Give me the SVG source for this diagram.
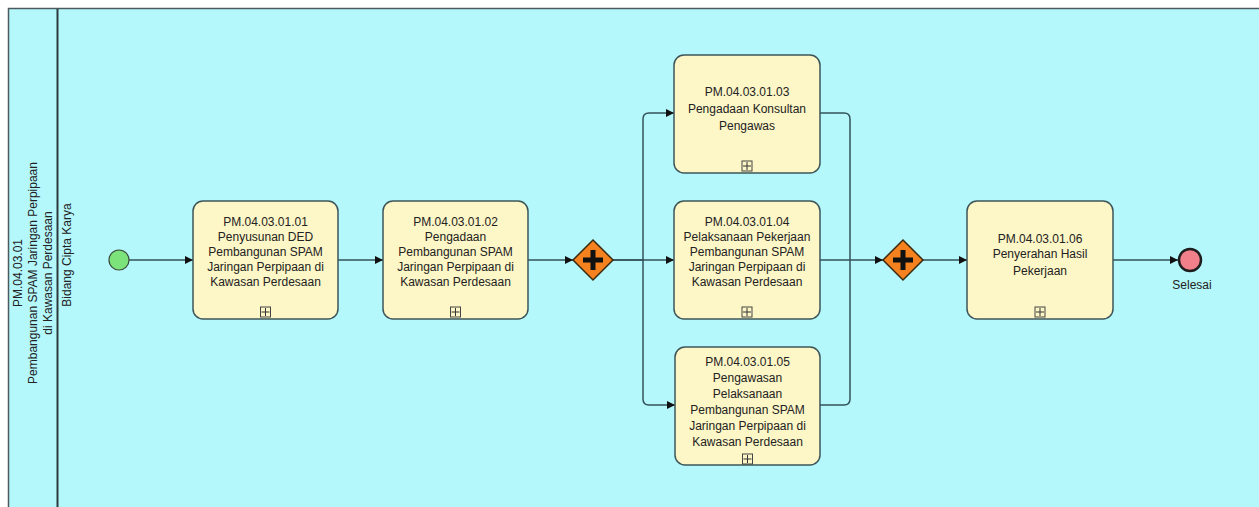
<svg xmlns="http://www.w3.org/2000/svg" width="1259" height="507" viewBox="0 0 1259 507">
<defs>
<style>
.pool{fill:#b5f8fc;stroke:#4a5a5e;stroke-width:1.5}
.task{fill:#fdf6c6;stroke:#3d5558;stroke-width:1.5}
.t{font-family:"Liberation Sans",Arial,sans-serif;font-size:12px;fill:#222;text-anchor:middle}
.c{fill:none;stroke:#33525a;stroke-width:1.5}
.gw{fill:#f5821f;stroke:#3a2a10;stroke-width:1.5}
.plus{stroke:#111;stroke-width:5;fill:none}
.sub{fill:#fdf6c6;stroke:#444;stroke-width:1}
</style>
<marker id="ah" viewBox="0 0 10 10" refX="10" refY="5" markerWidth="10" markerHeight="8" markerUnits="userSpaceOnUse" orient="auto">
<path d="M0,0 L10,5 L0,10 z" fill="#111"/>
</marker>
<g id="subm">
<rect x="-5" y="-5" width="10" height="10" class="sub"/>
<path d="M-4,0 H4 M0,-4 V4" stroke="#333" stroke-width="1"/>
</g>
</defs>
<g id="pool">
<rect class="pool" x="8.5" y="8.5" width="1262" height="510"/>
<line x1="57.5" y1="9" x2="57.5" y2="507" stroke="#2d3a3d" stroke-width="2"/>
<text class="t" transform="translate(22,273) rotate(-90)">PM.04.03.01</text>
<text class="t" transform="translate(37,273) rotate(-90)">Pembangunan SPAM Jaringan Perpipaan</text>
<text class="t" transform="translate(52,273) rotate(-90)">di Kawasan Perdesaan</text>
<text class="t" transform="translate(71,255) rotate(-90)">Bidang Cipta Karya</text>
</g>
<g id="connectors">
<path class="c" d="M129,260 H193" marker-end="url(#ah)"/>
<path class="c" d="M338,260 H383" marker-end="url(#ah)"/>
<path class="c" d="M528,260 H573" marker-end="url(#ah)"/>
<path class="c" d="M613,260 H643 V119 Q643,113 649,113 H674" marker-end="url(#ah)"/>
<path class="c" d="M613,260 H674" marker-end="url(#ah)"/>
<path class="c" d="M643,260 V399 Q643,405 649,405 H675" marker-end="url(#ah)"/>
<path class="c" d="M820,113 H844 Q850,113 850,119 V260 H883" marker-end="url(#ah)"/>
<path class="c" d="M820,260 H850"/>
<path class="c" d="M820,405 H844 Q850,405 850,399 V260"/>
<path class="c" d="M923,260 H967" marker-end="url(#ah)"/>
<path class="c" d="M1113,260 H1178" marker-end="url(#ah)"/>
</g>
<g id="start">
<circle cx="119" cy="260" r="10" fill="#7ce27a" stroke="#3a4a3a" stroke-width="1.2"/>
</g>
<g id="task1">
<rect class="task" x="193" y="201" width="145" height="118" rx="10"/>
<text class="t" x="265.5" y="226">PM.04.03.01.01</text>
<text class="t" x="265.5" y="241">Penyusunan DED</text>
<text class="t" x="265.5" y="256">Pembangunan SPAM</text>
<text class="t" x="265.5" y="271">Jaringan Perpipaan di</text>
<text class="t" x="265.5" y="286">Kawasan Perdesaan</text>
<use href="#subm" x="265.5" y="312"/>
</g>
<g id="task2">
<rect class="task" x="383" y="201" width="145" height="118" rx="10"/>
<text class="t" x="455.5" y="226">PM.04.03.01.02</text>
<text class="t" x="455.5" y="241">Pengadaan</text>
<text class="t" x="455.5" y="256">Pembangunan SPAM</text>
<text class="t" x="455.5" y="271">Jaringan Perpipaan di</text>
<text class="t" x="455.5" y="286">Kawasan Perdesaan</text>
<use href="#subm" x="455.5" y="312"/>
</g>
<g id="gateway1">
<path class="gw" d="M593,240 L613,260 L593,280 L573,260 z"/>
<path class="plus" d="M583,260 H603 M593,250 V270"/>
</g>
<g id="task3">
<rect class="task" x="674" y="55" width="146" height="118" rx="10"/>
<text class="t" x="747" y="96">PM.04.03.01.03</text>
<text class="t" x="747" y="113">Pengadaan Konsultan</text>
<text class="t" x="747" y="130">Pengawas</text>
<use href="#subm" x="747" y="166"/>
</g>
<g id="task4">
<rect class="task" x="674" y="201" width="146" height="118" rx="10"/>
<text class="t" x="747" y="226">PM.04.03.01.04</text>
<text class="t" x="747" y="241">Pelaksanaan Pekerjaan</text>
<text class="t" x="747" y="256">Pembangunan SPAM</text>
<text class="t" x="747" y="271">Jaringan Perpipaan di</text>
<text class="t" x="747" y="286">Kawasan Perdesaan</text>
<use href="#subm" x="747" y="312"/>
</g>
<g id="task5">
<rect class="task" x="675" y="347" width="145" height="118" rx="10"/>
<text class="t" x="747.5" y="366">PM.04.03.01.05</text>
<text class="t" x="747.5" y="382">Pengawasan</text>
<text class="t" x="747.5" y="398">Pelaksanaan</text>
<text class="t" x="747.5" y="414">Pembangunan SPAM</text>
<text class="t" x="747.5" y="430">Jaringan Perpipaan di</text>
<text class="t" x="747.5" y="446">Kawasan Perdesaan</text>
<use href="#subm" x="747.5" y="459"/>
</g>
<g id="gateway2">
<path class="gw" d="M903,240 L923,260 L903,280 L883,260 z"/>
<path class="plus" d="M893,260 H913 M903,250 V270"/>
</g>
<g id="task6">
<rect class="task" x="967" y="201" width="146" height="118" rx="10"/>
<text class="t" x="1040" y="243">PM.04.03.01.06</text>
<text class="t" x="1040" y="258">Penyerahan Hasil</text>
<text class="t" x="1040" y="275">Pekerjaan</text>
<use href="#subm" x="1040" y="312"/>
</g>
<g id="end">
<circle cx="1190" cy="260" r="11" fill="#f2808a" stroke="#1e1e1e" stroke-width="2.5"/>
<text class="t" x="1192" y="289">Selesai</text>
</g>
</svg>
